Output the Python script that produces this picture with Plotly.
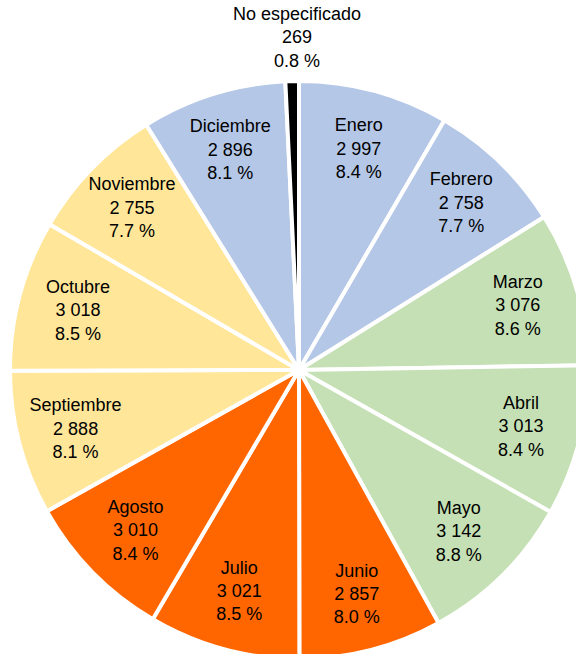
import plotly.graph_objects as go

# Monthly counts, clockwise from 12 o'clock
months = ["Enero", "Febrero", "Marzo", "Abril", "Mayo", "Junio", "Julio",
          "Agosto", "Septiembre", "Octubre", "Noviembre", "Diciembre",
          "No especificado"]
counts = [2997, 2758, 3076, 3013, 3142, 2857, 3021, 3010, 2888, 3018, 2755, 2896, 269]

# Season colours: winter, spring, summer, autumn, unknown
season_colors = {
    "invierno": "#B4C7E7",
    "primavera": "#C5E0B4",
    "verano": "#FF6600",
    "otoño": "#FFE699",
    "sin dato": "#000000",
}
season_of_month = ["invierno", "invierno", "primavera", "primavera", "primavera",
                   "verano", "verano", "verano", "otoño", "otoño", "otoño",
                   "invierno", "sin dato"]

total = sum(counts)
FONT = "Liberation Sans, Arial, sans-serif"


def fmt_int(v):
    return f"{v:,}".replace(",", " ")


labels_text = [
    f"{m}<br>{fmt_int(v)}<br>{v / total * 100:.1f} %" for m, v in zip(months, counts)
]
# the thin "unknown" slice gets its label centred above the pie instead
slice_text = labels_text[:-1] + [""]

fig = go.Figure(
    go.Pie(
        labels=months,
        values=counts,
        text=slice_text,
        textinfo="text",
        textposition="inside",
        insidetextorientation="horizontal",
        sort=False,
        direction="clockwise",
        rotation=0,
        marker=dict(
            colors=[season_colors[s] for s in season_of_month],
            line=dict(color="white", width=4),
        ),
        textfont=dict(family=FONT, size=18, color="black"),
        hoverinfo="label+value+percent",
        showlegend=False,
    )
)

fig.add_annotation(
    text=labels_text[-1],
    xref="paper", yref="paper",
    x=0.4965, y=1.0744,
    xanchor="center", yanchor="middle",
    showarrow=False,
    font=dict(family=FONT, size=18, color="black"),
)

fig.update_layout(
    width=588,
    height=659,
    margin=dict(l=10, r=0, t=81, b=0),
    paper_bgcolor="white",
    plot_bgcolor="white",
    showlegend=False,
)

fig.write_html(
    "out.html",
    post_script=(
        "document.documentElement.style.overflow='hidden';"
        "document.body.style.overflow='hidden';"
        "document.body.style.margin='0';"
    ),
)
